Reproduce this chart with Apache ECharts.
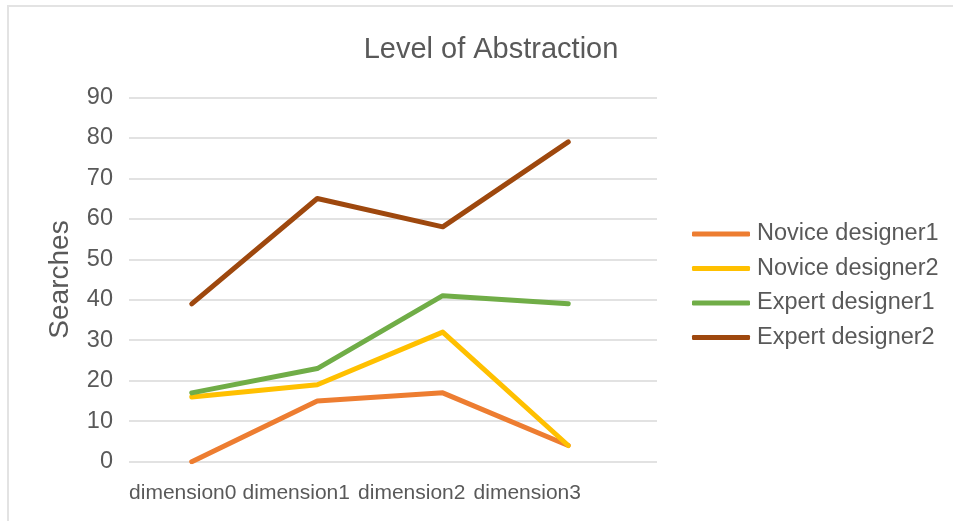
<!DOCTYPE html>
<html>
<head>
<meta charset="utf-8">
<title>Level of Abstraction</title>
<script src="https://cdn.jsdelivr.net/npm/echarts@6/dist/echarts.min.js"></script>
<style>
  html, body { margin: 0; padding: 0; background: #ffffff; }
  #chart { width: 953px; height: 521px; }
</style>
</head>
<body>
<div id="chart"></div>
<script>
// Chart data
const categories = ['dimension0', 'dimension1', 'dimension2', 'dimension3'];
const seriesNames = ['Novice designer1', 'Novice designer2', 'Expert designer1', 'Expert designer2'];
const noviceDesigner1 = [0, 15, 17, 4];
const noviceDesigner2 = [16, 19, 32, 4];
const expertDesigner1 = [17, 23, 41, 39];
const expertDesigner2 = [39, 65, 58, 79];
const yTicks = [0, 10, 20, 30, 40, 50, 60, 70, 80, 90];

const seriesValues = [noviceDesigner1, noviceDesigner2, expertDesigner1, expertDesigner2];
const seriesColors = ['#ED7D31', '#FFC000', '#70AD47', '#9E480E'];

// horizontal nudges for the packed category labels (px, negative = left)
const labelShift = [-9, -21, -31, -41];

const textColor = '#595959';
const font = 'Liberation Sans, Arial, Helvetica, sans-serif';

const rich = {};
labelShift.forEach((d, i) => {
  rich['c' + i] = {
    fontSize: 21,
    fontFamily: font,
    color: textColor,
    padding: [0, -2 * d, 0, 0]
  };
});

const chart = echarts.init(document.getElementById('chart'), null, { renderer: 'canvas' });

const yMin = yTicks[0];
const yMax = yTicks[yTicks.length - 1];
const yStep = yTicks[1] - yTicks[0];

chart.setOption({
  backgroundColor: '#ffffff',
  animation: false,
  title: {
    text: 'Level of Abstraction',
    left: 486,
    top: 30,
    textAlign: 'center',
    textStyle: { fontSize: 29, fontWeight: 'normal', color: textColor, fontFamily: font }
  },
  graphic: [{
    type: 'polyline',
    shape: { points: [[8, 521], [8, 6], [953, 6]] },
    style: { stroke: '#e3e3e3', lineWidth: 2, fill: null },
    silent: true
  }],
  legend: {
    orient: 'vertical',
    left: 692,
    top: 222,
    padding: 0,
    itemWidth: 58,
    itemHeight: 5,
    itemGap: 10.5,
    icon: 'roundRect',
    data: seriesNames,
    textStyle: { fontSize: 23.5, lineHeight: 24, color: textColor, fontFamily: font, padding: [0, 0, 0, 2] }
  },
  grid: [
    // full-width grid carrying the gridlines and value labels
    { left: 129, right: 296, top: 97.3, bottom: 59.3, containLabel: false },
    // grid holding the category bands and the lines
    { left: 129, width: 502, top: 97.3, bottom: 59.3, containLabel: false }
  ],
  xAxis: [
    { gridIndex: 0, type: 'category', data: categories, show: false },
    {
      gridIndex: 1,
      type: 'category',
      data: categories,
      boundaryGap: true,
      axisLine: { show: false },
      axisTick: { show: false },
      axisLabel: {
        interval: 0,
        margin: 21,
        formatter: (value, idx) => '{c' + idx + '|' + value + '}',
        rich: rich
      }
    }
  ],
  yAxis: [
    {
      gridIndex: 0,
      type: 'value',
      min: yMin,
      max: yMax,
      interval: yStep,
      name: 'Searches',
      nameLocation: 'middle',
      nameRotate: 90,
      nameGap: 55,
      nameTextStyle: { fontSize: 28, color: textColor, fontFamily: font },
      axisLine: { show: false },
      axisTick: { show: false },
      axisLabel: { fontSize: 23.5, color: textColor, fontFamily: font, margin: 16 },
      splitLine: { lineStyle: { color: '#d9d9d9', width: 1.5 } }
    },
    {
      gridIndex: 1,
      type: 'value',
      min: yMin,
      max: yMax,
      interval: yStep,
      show: false,
      splitLine: { show: false }
    }
  ],
  series: seriesNames.map((name, i) => ({
    name: name,
    type: 'line',
    xAxisIndex: 1,
    yAxisIndex: 1,
    data: seriesValues[i],
    symbol: 'none',
    color: seriesColors[i],
    lineStyle: { width: 5, color: seriesColors[i], cap: 'round', join: 'round' },
    itemStyle: { color: seriesColors[i] }
  }))
});
</script>
</body>
</html>
